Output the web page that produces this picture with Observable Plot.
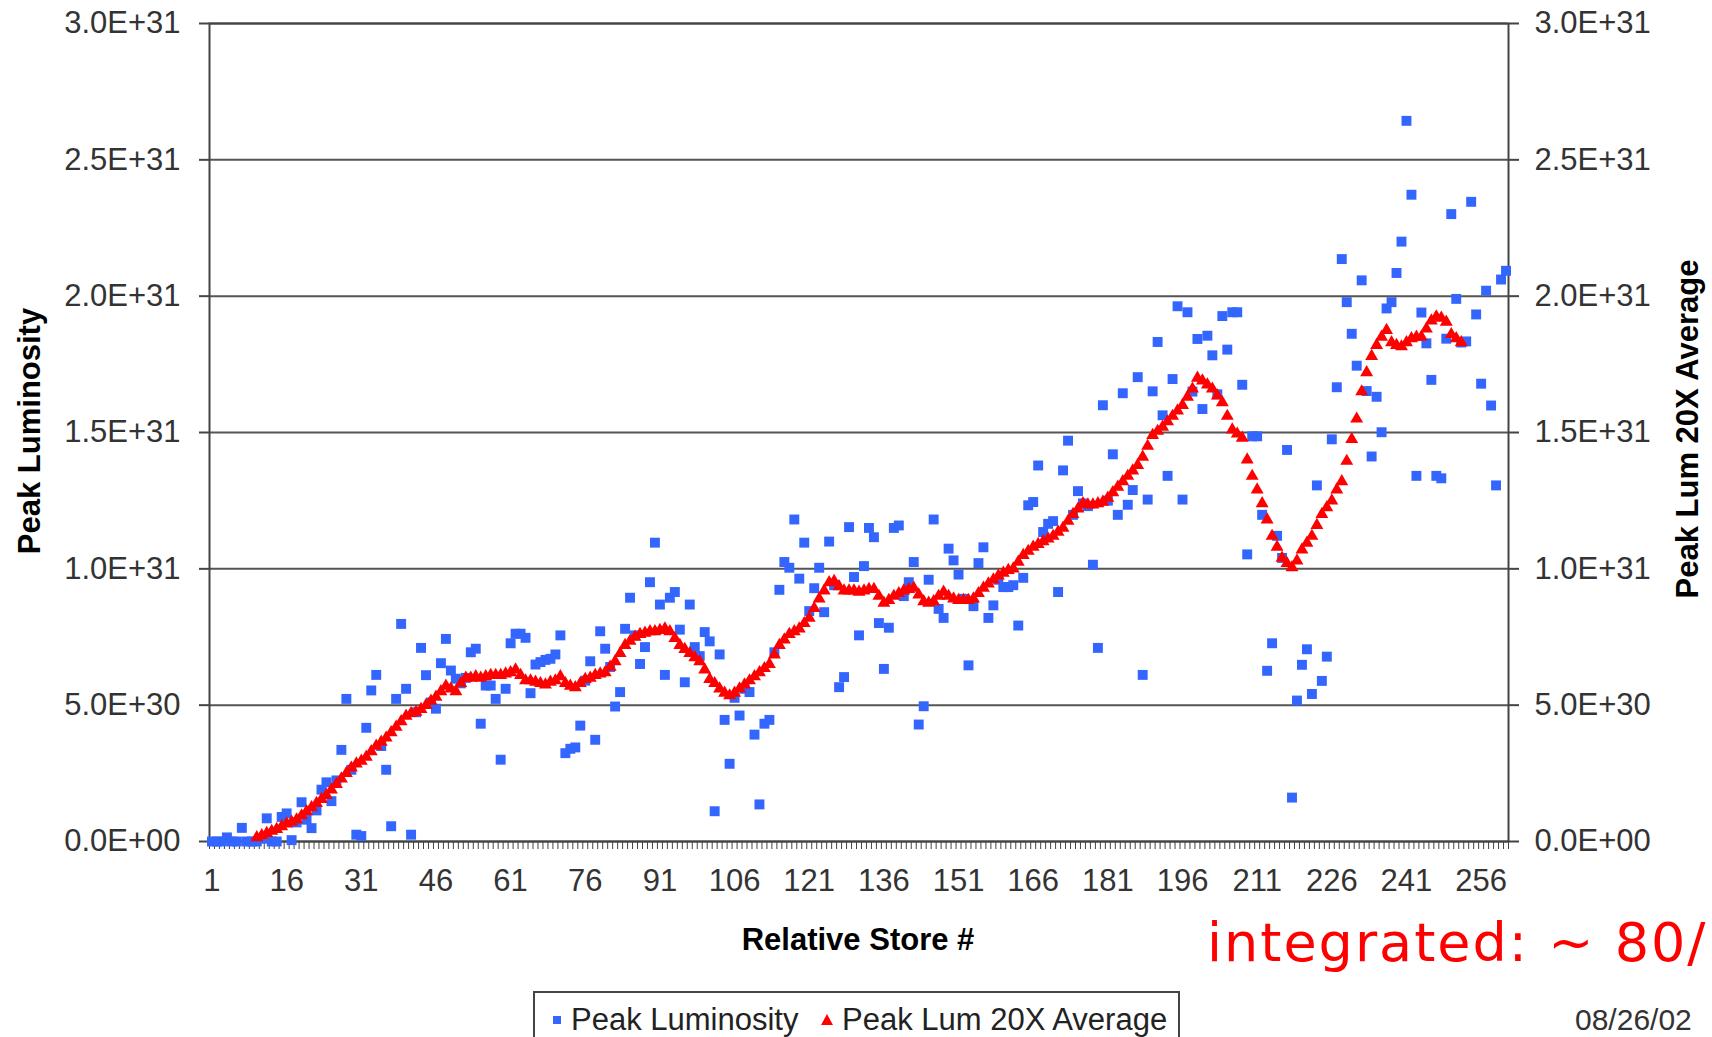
<!DOCTYPE html>
<html><head><meta charset="utf-8">
<script src="https://cdn.jsdelivr.net/npm/d3@7"></script>
<script src="https://cdn.jsdelivr.net/npm/@observablehq/plot@0.6"></script>
<style>
html,body{margin:0;padding:0;background:#fff;}
body{width:1712px;height:1037px;overflow:hidden;position:relative;font-family:"Liberation Sans",Arial,sans-serif;}
#chart{position:absolute;left:0;top:0;}
.t{position:absolute;white-space:nowrap;line-height:1;}
.ttl{font-weight:bold;font-size:31px;color:#000;}
</style></head><body>
<div id="chart"></div>
<div class="t ttl" id="ytl" style="left:29px;top:431px;transform:translate(-50%,-50%) rotate(-90deg);">Peak Luminosity</div>
<div class="t ttl" id="ytr" style="left:1687px;top:429px;transform:translate(-50%,-50%) rotate(-90deg);">Peak Lum 20X Average</div>
<div class="t ttl" id="xt" style="left:858px;top:939px;transform:translate(-50%,-50%);">Relative Store #</div>
<div class="t" id="note" style="left:1207px;top:916px;font-family:'DejaVu Sans',sans-serif;font-size:54px;letter-spacing:2px;color:#ff0000;">integrated: ~ 80/</div>
<div id="legend" style="position:absolute;left:533px;top:991px;width:647px;height:70px;border:2px solid #444;box-sizing:border-box;">
  <svg style="position:absolute;left:18px;top:23px" width="9" height="9"><rect x="0" y="0" width="8" height="8" fill="#3366ff"/></svg>
  <div class="t" style="left:36px;top:11px;font-size:31px;color:#222;">Peak Luminosity</div>
  <svg style="position:absolute;left:286px;top:21px" width="12" height="11"><polygon points="6,0 12,11 0,11" fill="#ff0000"/></svg>
  <div class="t" style="left:307px;top:11px;font-size:31px;color:#222;">Peak Lum 20X Average</div>
</div>
<div class="t" id="date" style="left:1575px;top:1005px;font-size:30px;color:#333;">08/26/02</div>
<script>
// Peak luminosity per relative store (units of 1E30), stores 1..261
const peakLumE30 = [
  0, 0, 0, 0.15, 0, 0, 0.5, 0, 0, 0,
  0.1, 0.85, 0, 0, 0.9, 1.03, 0.05, 0.7, 1.44, 0.8,
  0.49, 1.14, 1.9, 2.17, 1.48, 2.24, 3.36, 5.23, 2.63, 0.25,
  0.2, 4.17, 5.54, 6.11, 3.5, 2.63, 0.56, 5.23, 7.98, 5.6,
  0.25, 4.74, 7.1, 6.1, 5.1, 4.87, 6.54, 7.43, 6.27, 5.97,
  5.8, 6.0, 6.94, 7.07, 4.32, 5.72, 5.72, 5.23, 3.0, 5.6,
  7.27, 7.62, 7.62, 7.47, 5.44, 6.49, 6.58, 6.66, 6.7, 6.86,
  7.56, 3.24, 3.4, 3.45, 4.25, 5.9, 6.61, 3.73, 7.71, 7.07,
  6.4, 4.95, 5.48, 7.8, 8.94, 7.56, 6.51, 7.13, 9.51, 10.96,
  8.69, 6.11, 8.94, 9.15, 7.77, 5.84, 8.69, 7.13, 6.8, 7.68,
  7.34, 1.11, 6.86, 4.46, 2.85, 5.27, 4.62, 5.6, 5.48, 3.92,
  1.36, 4.32, 4.46, 6.94, 9.23, 10.25, 10.04, 11.81, 9.64, 10.96,
  8.45, 9.29, 10.04, 8.41, 11.0, 9.4, 5.66, 6.03, 11.53, 9.7,
  7.56, 10.1, 11.5, 11.16, 8.01, 6.33, 7.84, 11.5, 11.59, 9.0,
  9.51, 10.25, 4.29, 4.96, 9.6, 11.81, 8.53, 8.2, 10.74, 10.31,
  9.79, 8.9, 6.46, 8.63, 10.21, 10.79, 8.2, 8.66, 9.6, 9.33,
  9.33, 9.4, 7.92, 9.67, 12.33, 12.45, 13.79, 11.35, 11.65, 11.75,
  9.15, 13.61, 14.7, 11.98, 12.85, 12.4, 12.3, 10.15, 7.1, 16.0,
  12.5, 14.2, 11.98, 16.44, 12.35, 12.89, 17.03, 6.11, 12.54, 16.51,
  18.32, 15.63, 13.41, 16.96, 19.63, 12.54, 19.41, 16.5, 18.43, 15.86,
  18.55, 17.83, 16.4, 19.27, 18.04, 19.41, 19.41, 16.75, 10.53, 14.86,
  14.86, 11.98, 6.26, 7.27, 11.21, 10.4, 14.36, 1.61, 5.17, 6.48,
  7.05, 5.41, 13.06, 5.89, 6.78, 14.75, 16.66, 21.36, 19.78, 18.62,
  17.45, 20.58, 16.52, 14.12, 16.31, 15.01, 19.55, 19.78, 20.85, 22.0,
  26.43, 23.72, 13.41, 19.4, 18.27, 16.93, 13.41, 13.32, 18.44, 23.01,
  19.9, 18.3, 18.34, 23.46, 19.33, 16.79, 20.2, 15.99, 13.06, 20.61,
  20.93
];
// 20X running average (units of 1E30), starting at store 10
const avgFirstStore = 10;
const avgLumE30 = [
  0.15, 0.22, 0.3, 0.38, 0.45, 0.55, 0.65, 0.72, 0.8, 0.95,
  1.1, 1.25, 1.4, 1.55, 1.7, 1.9, 2.1, 2.3, 2.5, 2.7,
  2.85, 2.95, 3.1, 3.3, 3.5, 3.65, 3.8, 4.0, 4.2, 4.4,
  4.6, 4.7, 4.75, 4.85, 5.0, 5.15, 5.3, 5.5, 5.7, 5.6,
  5.5, 5.8, 6.0, 6.0, 6.05, 6.0, 6.05, 6.1, 6.1, 6.1,
  6.15, 6.2, 6.3, 6.1, 5.9, 5.9, 5.85, 5.8, 5.75, 5.85,
  5.9, 6.05, 5.8, 5.7, 5.65, 5.8, 5.95, 6.0, 6.1, 6.15,
  6.2, 6.4, 6.6, 6.9, 7.2, 7.35, 7.5, 7.6, 7.65, 7.7,
  7.7, 7.75, 7.8, 7.7, 7.45, 7.2, 7.05, 6.9, 6.75, 6.6,
  6.3, 5.95, 5.8, 5.6, 5.45, 5.35, 5.45, 5.6, 5.75, 5.9,
  6.05, 6.2, 6.35, 6.5, 6.85, 7.2, 7.4, 7.6, 7.7, 7.8,
  8.0, 8.2, 8.55, 8.9, 9.2, 9.5, 9.55, 9.35, 9.2, 9.2,
  9.2, 9.15, 9.2, 9.25, 9.25, 9.0, 8.75, 8.85, 9.0, 9.1,
  9.2, 9.25, 9.3, 9.05, 8.8, 8.75, 8.8, 9.0, 9.15, 9.0,
  8.9, 8.85, 8.85, 8.85, 8.9, 9.1, 9.3, 9.45, 9.6, 9.75,
  9.85, 9.95, 10.0, 10.25, 10.5, 10.65, 10.8, 10.9, 11.0, 11.1,
  11.2, 11.35, 11.5, 11.75, 12.0, 12.2, 12.4, 12.35, 12.35, 12.4,
  12.45, 12.6, 12.8, 13.0, 13.2, 13.4, 13.6, 13.8, 14.1, 14.5,
  14.9, 15.05, 15.2, 15.4, 15.6, 15.8, 16.0, 16.3, 16.6, 17.0,
  16.9, 16.75, 16.6, 16.35, 16.1, 15.6, 15.1, 14.95, 14.8, 14.0,
  13.4, 12.9, 12.4, 11.8, 11.2, 10.8, 10.4, 10.2, 10.05, 10.3,
  10.7, 10.95, 11.2, 11.6, 12.0, 12.25, 12.5, 12.9, 13.2, 13.95,
  14.75, 15.5, 16.5, 17.2, 17.8, 18.2, 18.5, 18.75, 18.3, 18.2,
  18.15, 18.3, 18.45, 18.5, 18.5, 18.8, 19.1, 19.25, 19.2, 19.05,
  18.6, 18.45, 18.3
];
const xTickLabels = [1, 16, 31, 46, 61, 76, 91, 106, 121, 136, 151, 166, 181, 196, 211, 226, 241, 256];
const yTicks = [0, 5e30, 1e31, 1.5e31, 2e31, 2.5e31, 3e31];

const storeCount = peakLumE30.length;
const lumData = peakLumE30.map((v, i) => ({store: i + 1, lum: v * 1e30}));
const avgData = avgLumE30.map((v, i) => ({store: avgFirstStore + i, lum: v * 1e30}));
const boundaries = lumData.map(d => d.store - 0.5).concat([storeCount + 0.5]);

const fmt = d => d.toExponential(1).toUpperCase().replace(/E([+-])(\d)$/, "E$10$2");

const chart = Plot.plot({
  width: 1712, height: 1037,
  marginLeft: 209, marginRight: 204, marginTop: 23, marginBottom: 196,
  x: {domain: [0.5, storeCount + 0.5]},
  y: {domain: [0, 3e31]},
  style: {fontFamily: "'Liberation Sans', Arial, sans-serif", fontSize: "31px", color: "#333", background: "white"},
  marks: [
    Plot.gridY(yTicks, {stroke: "#555", strokeOpacity: 1, strokeWidth: 2}),
    Plot.frame({stroke: "#444", strokeWidth: 2}),
    Plot.axisY(yTicks, {anchor: "left", tickSize: 10, tickPadding: 19, tickFormat: fmt, label: null, stroke: "#444", strokeWidth: 2}),
    Plot.axisY(yTicks, {anchor: "right", tickSize: 10, tickPadding: 16, tickFormat: fmt, label: null, stroke: "#444", strokeWidth: 2}),
    Plot.axisX(boundaries, {anchor: "bottom", tickSize: 8, tickFormat: () => "", label: null, stroke: "#444"}),
    Plot.axisX(xTickLabels, {anchor: "bottom", tickSize: 0, tickPadding: 27, label: null}),
    Plot.dot(lumData, {x: "store", y: "lum", symbol: "square", r: 5.6, fill: "#3366ff", stroke: null}),
    Plot.dot(avgData, {x: "store", y: "lum", symbol: "triangle", r: 4.8, fill: "#ff0000", stroke: null})
  ]
});
document.getElementById("chart").appendChild(chart);
</script>
</body></html>
